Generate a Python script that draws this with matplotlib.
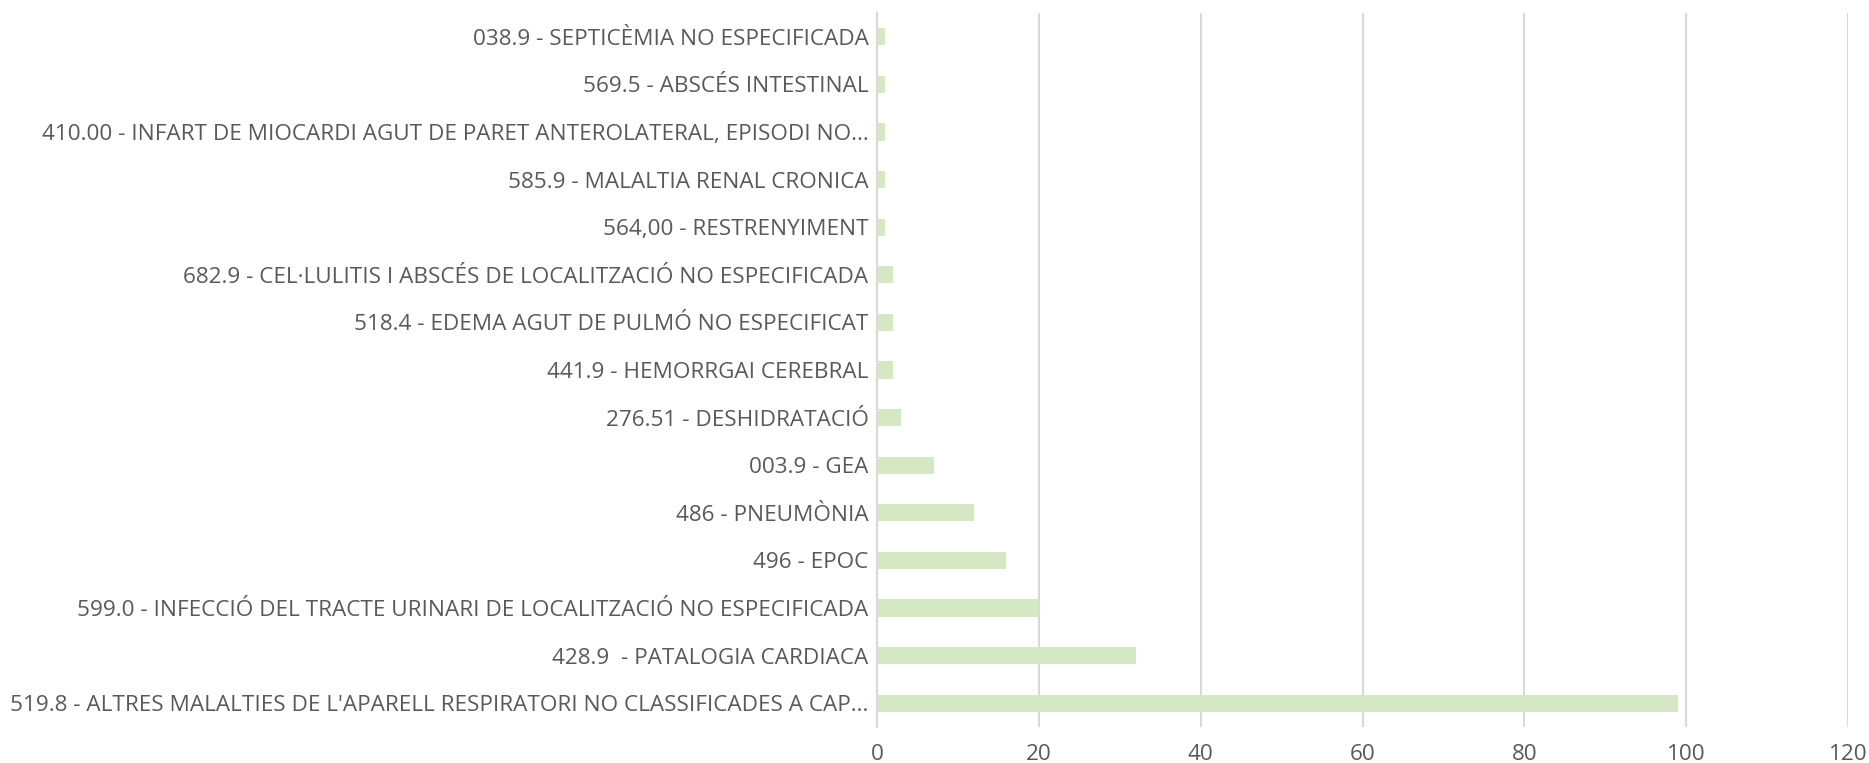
import matplotlib.pyplot as plt

categories = [
    "519.8 - ALTRES MALALTIES DE L'APARELL RESPIRATORI NO CLASSIFICADES A CAP...",
    "428.9  - PATALOGIA CARDIACA",
    "599.0 - INFECCIÓ DEL TRACTE URINARI DE LOCALITZACIÓ NO ESPECIFICADA",
    "496 - EPOC",
    "486 - PNEUMÒNIA",
    "003.9 - GEA",
    "276.51 - DESHIDRATACIÓ",
    "441.9 - HEMORRGAI CEREBRAL",
    "518.4 - EDEMA AGUT DE PULMÓ NO ESPECIFICAT",
    "682.9 - CEL·LULITIS I ABSCÉS DE LOCALITZACIÓ NO ESPECIFICADA",
    "564,00 - RESTRENYIMENT",
    "585.9 - MALALTIA RENAL CRONICA",
    "410.00 - INFART DE MIOCARDI AGUT DE PARET ANTEROLATERAL, EPISODI NO...",
    "569.5 - ABSCÉS INTESTINAL",
    "038.9 - SEPTICÈMIA NO ESPECIFICADA",
]
values = [99, 32, 20, 16, 12, 7, 3, 2, 2, 2, 1, 1, 1, 1, 1]
xticks = [0, 20, 40, 60, 80, 100, 120]

plt.rcParams['font.family'] = ['Open Sans', 'DejaVu Sans']

fig = plt.figure(figsize=(18.69, 7.63), dpi=100)
ax = fig.add_axes([0.4692, 0.0472, 0.5196, 0.9358])

ypos = range(len(categories))
ax.barh(ypos, values, height=0.36, color='#d5e8c4', zorder=3)

ax.set_xlim(0, 120)
ax.set_ylim(-0.5, len(categories) - 0.5)
ax.set_xticks(xticks)
ax.set_yticks(list(ypos))
ax.set_yticklabels(categories)
ax.tick_params(axis='both', length=0, colors='#595959', labelsize=16.2)
ax.tick_params(axis='y', pad=6)
ax.tick_params(axis='x', pad=12)

ax.grid(axis='x', color='#d9d9d9', linewidth=1.5, zorder=0)
for s in ['top', 'right', 'bottom']:
    ax.spines[s].set_visible(False)
ax.spines['left'].set_color('#d9d9d9')
ax.spines['left'].set_linewidth(1.5)

fig.savefig('out.png', dpi=100)
